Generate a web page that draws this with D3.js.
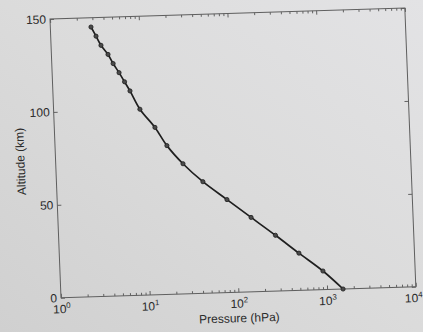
<!DOCTYPE html>
<html>
<head>
<meta charset="utf-8">
<script src="https://cdn.jsdelivr.net/npm/d3@7"></script>
<style>
  html, body { margin: 0; padding: 0; background: #d9d9d9; }
  svg { display: block; }
  text { font-family: "Liberation Sans", Arial, sans-serif; fill: #2a2a2a; }
</style>
</head>
<body>
<svg id="chart" width="423" height="332"></svg>
<script>
// Data (altitude in km, pressure in hPa)
const altitudeKm  = [0, 10, 20, 30, 40, 50, 60, 70, 80, 90, 100, 110, 115, 120, 125, 130, 135, 140, 145];
const pressureHPa = [1513, 915, 500, 277, 150, 81.7, 44.6, 27.1, 18.2, 13.6, 9.38, 7.39, 6.48, 5.67, 4.91, 4.34, 3.65, 3.24, 2.87];

const xMajorTicks = [1, 10, 100, 1000, 10000];
const xTickExponents = ["0", "1", "2", "3", "4"];
const yTicks = [0, 50, 100, 150];
const xTitle = "Pressure (hPa)";
const yTitle = "Altitude (km)";

const W = 355, H = 279;
const svg = d3.select("#chart");

// paper background
const defs = svg.append("defs");
const grad = defs.append("linearGradient").attr("id", "paper")
  .attr("x1", "0").attr("y1", "1").attr("x2", "1").attr("y2", "0");
grad.append("stop").attr("offset", "0").attr("stop-color", "#d0d0d0");
grad.append("stop").attr("offset", "0.5").attr("stop-color", "#dbdbdb");
grad.append("stop").attr("offset", "1").attr("stop-color", "#e3e3e5");
svg.append("rect").attr("width", 423).attr("height", 332).attr("fill", "url(#paper)");

// the photographed page is slightly tilted
const g = svg.append("g")
  .attr("transform", "matrix(0.9995,-0.0311,0.0394,0.9992,50,19)");

const x = d3.scaleLog().domain([1, 1e4]).range([0, W]);
const y = d3.scaleLinear().domain([0, 150]).range([H, 0]);

const xMinor = [];
for (let e = 0; e < 4; e++) for (let m = 2; m <= 9; m++) xMinor.push(m * Math.pow(10, e));

function styleAxis(sel) {
  sel.select(".domain").remove();
  sel.selectAll(".tick line").attr("stroke", "#555").attr("stroke-width", 0.9);
}

// bottom axis: major ticks with labels
const bx = g.append("g").attr("transform", `translate(0,${H})`)
  .call(d3.axisBottom(x).tickValues(xMajorTicks).tickSize(-4).tickPadding(0).tickFormat(() => ""));
styleAxis(bx);
bx.selectAll(".tick text").each(function(d, i) {
  const t = d3.select(this);
  t.text(null).attr("y", 15.5).attr("dy", null)
    .attr("x", i === xMajorTicks.length - 1 ? -3 : 0)
    .attr("font-size", 12).attr("text-anchor", "middle");
  t.append("tspan").text("10");
  t.append("tspan").attr("dy", -5).attr("font-size", 8).text(xTickExponents[i]);
});
// bottom minor ticks
styleAxis(g.append("g").attr("transform", `translate(0,${H})`)
  .call(d3.axisBottom(x).tickValues(xMinor).tickSize(-2.5).tickFormat(() => "")));
// top axis
styleAxis(g.append("g")
  .call(d3.axisTop(x).tickValues(xMajorTicks).tickSize(-4).tickFormat(() => "")));
styleAxis(g.append("g")
  .call(d3.axisTop(x).tickValues(xMinor).tickSize(-2.5).tickFormat(() => "")));

// left axis
const ly = g.append("g")
  .call(d3.axisLeft(y).tickValues(yTicks).tickSize(-4).tickPadding(5).tickFormat(d3.format("d")));
styleAxis(ly);
ly.selectAll(".tick text").attr("font-size", 12).attr("x", -4).attr("fill", "#2a2a2a");
// right axis
styleAxis(g.append("g").attr("transform", `translate(${W},0)`)
  .call(d3.axisRight(y).tickValues(yTicks).tickSize(-4).tickFormat(() => "")));

// frame
g.append("rect").attr("width", W).attr("height", H)
  .attr("fill", "none").attr("stroke", "#5e5e5e").attr("stroke-width", 1);

// curve
const pts = altitudeKm.map((a, i) => ({ a, p: pressureHPa[i] }));
const line = d3.line().x(d => x(d.p)).y(d => y(d.a)).curve(d3.curveCatmullRom.alpha(0.5));
g.append("path").datum(pts).attr("d", line)
  .attr("fill", "none").attr("stroke", "#1f1f1f").attr("stroke-width", 1.7);
g.selectAll("circle.m").data(pts).enter().append("circle").attr("class", "m")
  .attr("cx", d => x(d.p)).attr("cy", d => y(d.a)).attr("r", 2.1)
  .attr("fill", "#4a4a4a").attr("stroke", "#1f1f1f").attr("stroke-width", 0.8);

// titles
g.append("text").attr("x", W / 2).attr("y", H + 30).attr("text-anchor", "middle")
  .attr("font-size", 12).text(xTitle);
g.append("text").attr("transform", `translate(-31,${H / 2 + 2}) rotate(-90)`)
  .attr("text-anchor", "middle").attr("font-size", 12).text(yTitle);
</script>
</body>
</html>
